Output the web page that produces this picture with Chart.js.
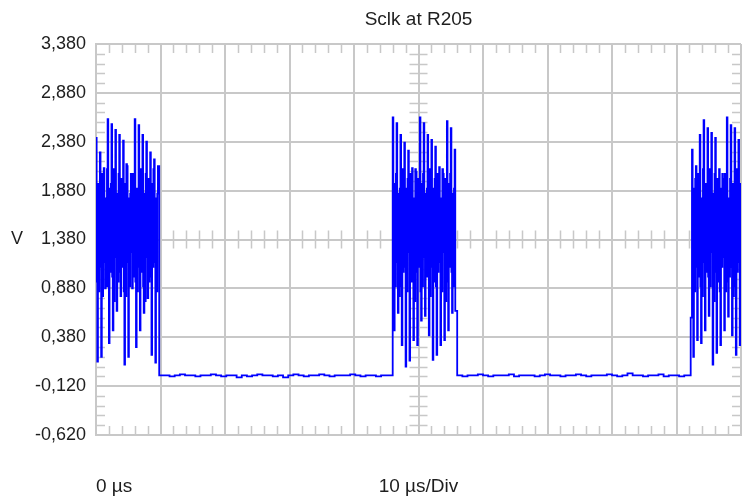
<!DOCTYPE html>
<html>
<head>
<meta charset="utf-8">
<script src="https://cdn.jsdelivr.net/npm/chart.js@4/dist/chart.umd.min.js"></script>
<style>
  html, body { margin: 0; padding: 0; background: #ffffff; }
  #scope { display: block; }
</style>
</head>
<body>
<canvas id="scope" width="748" height="501"></canvas>
<script>
// y gridlines / tick labels (V)
var yTicks = [-0.62, -0.12, 0.38, 0.88, 1.38, 1.88, 2.38, 2.88, 3.38];
// x gridlines (us), 10 us/div
var xTicks = [0, 10, 20, 30, 40, 50, 60, 70, 80, 90, 100];

// burst 1, starts at 0 us, 0.1 us per sample
var burst1 = [
    2.42, 0.95, 0.13, 1.95, 0.85, 1.85,
    2.27, 1.10, 0.18, 2.05, 0.80, 2.00,
    2.11, 1.15, 0.88, 1.80, 0.90, 2.10,
    2.61, 0.90, 0.32, 1.90, 1.05, 1.95,
    2.56, 1.00, 0.45, 2.10, 0.75, 1.80,
    2.50, 1.20, 0.65, 1.85, 0.95, 2.05,
    2.45, 1.05, 0.80, 2.00, 1.10, 1.90,
    2.39, 0.85, 0.10, 1.95, 0.80, 2.15,
    2.13, 1.15, 0.18, 1.80, 0.90, 1.85,
    2.05, 1.25, 0.88, 2.05, 1.00, 2.00,
    2.61, 0.95, 0.28, 1.90, 0.85, 1.80,
    2.55, 1.10, 0.45, 2.10, 1.05, 1.95,
    2.45, 0.90, 0.63, 1.85, 0.75, 2.05,
    2.38, 1.20, 0.78, 2.00, 0.95, 1.90,
    2.27, 1.00, 0.20, 1.95, 1.10, 2.10,
    2.20, 1.15, 0.12, 1.80, 0.85, 1.85,
    2.13];
// idle level, starts at 9.8 us, 0.8 us per sample
var flat1 = [-0.01, -0.01, -0.02, -0.01, 0.00, -0.01, -0.01, -0.02, -0.01, -0.01,
    0.00, -0.01, -0.02, -0.01, -0.01, -0.03, -0.01, -0.02, -0.01, 0.00,
    -0.01, -0.01, -0.02, -0.01, -0.03, -0.01, 0.00, -0.01, -0.02, -0.01,
    -0.01, 0.00, -0.01, -0.02, -0.01, -0.01, -0.01, 0.00, -0.01, -0.02,
    -0.01, -0.01, -0.02, -0.01, -0.01, -0.01];
// burst 2, starts at 46 us, 0.1 us per sample
var burst2 = [
    2.63, 1.00, 0.45, 1.95, 0.90, 2.05,
    2.57, 1.15, 0.63, 1.85, 0.80, 1.90,
    2.45, 0.90, 0.30, 2.10, 1.05, 1.80,
    2.37, 1.10, 0.08, 1.90, 0.85, 2.00,
    2.29, 1.25, 0.14, 2.05, 0.95, 1.95,
    2.11, 0.95, 0.35, 1.80, 0.75, 2.10,
    2.07, 1.05, 0.30, 2.00, 1.10, 1.85,
    2.63, 0.85, 0.55, 1.95, 0.90, 2.05,
    2.57, 1.20, 0.60, 1.85, 1.00, 1.90,
    2.45, 1.00, 0.40, 2.10, 0.80, 1.80,
    2.40, 1.10, 0.15, 1.90, 0.95, 2.00,
    2.33, 0.90, 0.20, 2.05, 1.05, 1.95,
    2.12, 1.15, 0.30, 1.80, 0.85, 2.10,
    2.05, 1.25, 0.35, 2.00, 0.75, 1.85,
    2.59, 0.95, 0.45, 1.95, 1.10, 2.05,
    2.52, 1.05, 0.63, 1.85, 0.90, 1.90,
    2.30, 0.65];
// idle level, starts at 56 us, 0.8 us per sample
var flat2 = [-0.01, -0.02, -0.01, -0.01, 0.00, -0.01, -0.02, -0.01, -0.01, -0.01,
    0.00, -0.02, -0.01, -0.01, -0.01, -0.02, -0.01, 0.00, -0.01, -0.01,
    -0.02, -0.01, -0.01, 0.00, -0.01, -0.02, -0.01, -0.01, -0.01, 0.00,
    -0.01, -0.02, -0.01, 0.01, -0.01, -0.01, -0.02, -0.01, -0.01, 0.00,
    -0.02, -0.01, -0.01, -0.02, -0.01, -0.01];
// burst 3, starts at 92.2 us, 0.1 us per sample
var burst3 = [0.58, 0.58,
    2.30, 0.95, 0.18, 1.90, 0.85, 2.00,
    2.13, 1.10, 0.35, 2.05, 1.00, 1.85,
    2.45, 0.90, 0.32, 1.80, 0.80, 2.10,
    2.60, 1.15, 0.45, 1.95, 1.05, 1.90,
    2.52, 1.00, 0.60, 2.10, 0.90, 1.80,
    2.47, 1.25, 0.10, 1.85, 0.75, 2.05,
    2.42, 1.05, 0.22, 2.00, 0.95, 1.95,
    2.10, 0.85, 0.30, 1.90, 1.10, 2.05,
    2.00, 1.20, 0.45, 2.05, 0.85, 1.85,
    2.63, 0.95, 0.59, 1.80, 1.00, 2.00,
    2.55, 1.10, 0.40, 1.95, 0.80, 1.90,
    2.52, 0.90, 0.20, 2.10, 1.05, 2.05,
    2.40, 1.15, 0.30, 1.95, 0.95];

var segments = [
    { start: 0, step: 0.1, values: burst1 },
    { start: 9.8, step: 0.8, values: flat1 },
    { start: 46.0, step: 0.1, values: burst2 },
    { start: 56.0, step: 0.8, values: flat2 },
    { start: 92.2, step: 0.1, values: burst3 }
];

var trace = [];
segments.forEach(function (seg) {
    seg.values.forEach(function (v, i) {
        trace.push({ x: +(seg.start + i * seg.step).toFixed(2), y: v });
    });
});

var gridColor = '#c8c8c8';
var textColor = '#1e1e1e';
var fontFamily = "'Liberation Sans', Arial, sans-serif";

// minor ticks on the frame and the center cross, plus the scope texts
var scopeDecor = {
    id: 'scopeDecor',
    beforeDatasetsDraw: function (chart) {
        var ctx = chart.ctx, a = chart.chartArea;
        var xs = chart.scales.x, ys = chart.scales.y;
        var xc = xs.getPixelForValue(50);
        var yc = ys.getPixelForValue(1.38);
        ctx.save();
        ctx.strokeStyle = gridColor;
        ctx.lineWidth = 1.5;
        ctx.beginPath();
        for (var i = 1; i < 50; i++) {
            if (i % 5 === 0) continue;
            var px = Math.round(xs.getPixelForValue(i * 2)) + 0.5;
            ctx.moveTo(px, a.top); ctx.lineTo(px, a.top + 9);
            ctx.moveTo(px, a.bottom); ctx.lineTo(px, a.bottom - 9);
            ctx.moveTo(px, yc - 9); ctx.lineTo(px, yc + 9);
        }
        for (var j = 1; j < 40; j++) {
            if (j % 5 === 0) continue;
            var py = Math.round(ys.getPixelForValue(-0.62 + j * 0.1)) + 0.5;
            ctx.moveTo(a.left, py); ctx.lineTo(a.left + 9, py);
            ctx.moveTo(a.right, py); ctx.lineTo(a.right - 9, py);
            ctx.moveTo(xc - 9, py); ctx.lineTo(xc + 9, py);
        }
        ctx.stroke();
        ctx.restore();
    },
    afterDraw: function (chart) {
        var ctx = chart.ctx, a = chart.chartArea;
        var mid = (a.left + a.right) / 2;
        ctx.save();
        ctx.fillStyle = textColor;
        ctx.font = '19px ' + fontFamily;
        ctx.textBaseline = 'middle';
        ctx.textAlign = 'center';
        ctx.fillText('Sclk at R205', mid, 20);
        ctx.fillText('10 \u00b5s/Div', mid, 487);
        ctx.font = '18px ' + fontFamily;
        ctx.fillText('V', 17, chart.scales.y.getPixelForValue(1.38));
        ctx.font = '19px ' + fontFamily;
        ctx.textAlign = 'left';
        ctx.fillText('0 \u00b5s', a.left, 487);
        ctx.restore();
    }
};

new Chart(document.getElementById('scope'), {
    type: 'line',
    data: {
        datasets: [{
            data: trace,
            borderColor: '#0000ff',
            borderWidth: 1.8,
            pointRadius: 0,
            stepped: true,
            fill: false
        }]
    },
    options: {
        responsive: false,
        animation: false,
        devicePixelRatio: 1,
        layout: { padding: { left: 0, top: 44, right: 7, bottom: 66 } },
        plugins: {
            legend: { display: false },
            tooltip: { enabled: false },
            title: { display: false }
        },
        scales: {
            x: {
                type: 'linear',
                min: 0,
                max: 100,
                afterBuildTicks: function (scale) {
                    scale.ticks = xTicks.map(function (v) { return { value: v }; });
                },
                afterFit: function (scale) { scale.height = 0; },
                ticks: { display: false },
                grid: { color: gridColor, lineWidth: 2, drawTicks: false },
                border: { color: gridColor, width: 2 }
            },
            y: {
                min: -0.62,
                max: 3.38,
                afterBuildTicks: function (scale) {
                    scale.ticks = yTicks.map(function (v) { return { value: v }; });
                },
                afterFit: function (scale) { scale.width = 96; },
                ticks: {
                    padding: 10,
                    color: textColor,
                    font: { family: fontFamily, size: 18 },
                    callback: function (value) {
                        return Number(value).toFixed(3).replace('.', ',');
                    }
                },
                grid: { color: gridColor, lineWidth: 2, drawTicks: false },
                border: { color: gridColor, width: 2 }
            }
        }
    },
    plugins: [scopeDecor]
});
</script>
</body>
</html>
